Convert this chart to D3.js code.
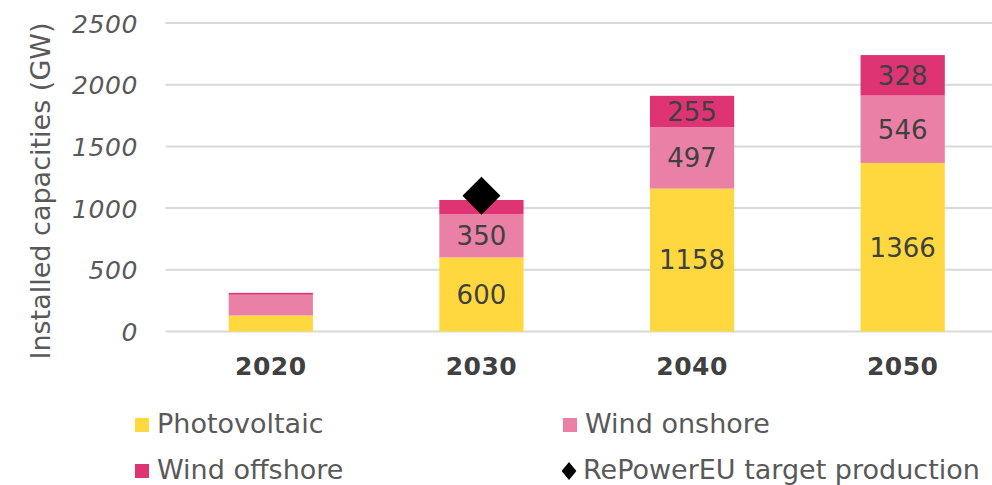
<!DOCTYPE html>
<html>
<head>
<meta charset="utf-8">
<script src="https://cdn.jsdelivr.net/npm/d3@7/dist/d3.min.js"></script>
<style>
  html, body { margin: 0; padding: 0; background: #ffffff; }
  svg { display: block; }
</style>
</head>
<body>
<script>
// Installed capacities in GW by year and technology
const years = ["2020", "2030", "2040", "2050"];
const photovoltaic = [130, 600, 1158, 1366];
const windOnshore = [168, 350, 497, 546];
const windOffshore = [15, 116, 255, 328];
const repowerTarget = [null, 1100, null, null];
const yTicks = [0, 500, 1000, 1500, 2000, 2500];

const seriesNames = ["Photovoltaic", "Wind onshore", "Wind offshore"];
const seriesColors = ["#FFD83F", "#EA80A6", "#DE3474"];
const targetName = "RePowerEU target production";

const W = 992, H = 485;
const svg = d3.select("body").append("svg").attr("width", W).attr("height", H);

const x = d3.scaleBand().domain(years).range([165.5, 1008]).paddingInner(0.6).paddingOuter(0.3);
const y = d3.scaleLinear().domain([0, 2500]).range([331.5, 23]);

// Horizontal gridlines
svg.append("g").selectAll("line").data(yTicks).join("line")
  .attr("x1", 165.5).attr("x2", W)
  .attr("y1", d => y(d)).attr("y2", d => y(d))
  .attr("stroke", "#D9D9D9").attr("stroke-width", 2);

// Y axis tick labels
const yAxis = d3.axisLeft(y).tickValues(yTicks).tickSize(0).tickPadding(0).tickFormat(d3.format("d"));
const gy = svg.append("g").attr("transform", "translate(138,0)").call(yAxis);
gy.select(".domain").remove();
gy.selectAll("text")
  .attr("font-family", "'DejaVu Sans', Verdana, sans-serif")
  .attr("font-size", 25).attr("font-style", "italic")
  .attr("letter-spacing", 0.6)
  .attr("fill", "#595959").attr("dy", "0.36em");

// Y axis title
svg.append("text")
  .attr("transform", "translate(50,191) rotate(-90)")
  .attr("text-anchor", "middle")
  .attr("font-family", "'DejaVu Sans', Verdana, sans-serif")
  .attr("font-size", 27).attr("fill", "#595959")
  .text("Installed capacities (GW)");

// Stacked data
const table = years.map((yr, i) => ({
  year: yr,
  "Photovoltaic": photovoltaic[i],
  "Wind onshore": windOnshore[i],
  "Wind offshore": windOffshore[i]
}));
const stacked = d3.stack().keys(seriesNames)(table);

const layers = svg.append("g").selectAll("g").data(stacked).join("g")
  .attr("fill", (d, i) => seriesColors[i]);
layers.selectAll("rect").data(d => d).join("rect")
  .attr("x", d => x(d.data.year))
  .attr("width", x.bandwidth())
  .attr("y", d => y(d[1]))
  .attr("height", d => y(d[0]) - y(d[1]));

// Value labels for segments large enough to hold them
const labelMin = 200;
const labels = svg.append("g");
stacked.forEach(layer => {
  layer.forEach(d => {
    const v = d[1] - d[0];
    if (v >= labelMin) {
      labels.append("text")
        .attr("x", x(d.data.year) + x.bandwidth() / 2)
        .attr("y", (y(d[0]) + y(d[1])) / 2)
        .attr("dy", "0.36em")
        .attr("text-anchor", "middle")
        .attr("font-family", "'DejaVu Sans', Verdana, sans-serif")
        .attr("font-size", 26).attr("fill", "#404040")
        .text(v);
    }
  });
});

// RePowerEU target markers
const diamond = d3.symbol().type(d3.symbolSquare).size(722)();
svg.append("g").selectAll("path")
  .data(years.map((yr, i) => ({ year: yr, v: repowerTarget[i] })).filter(d => d.v != null))
  .join("path")
  .attr("d", diamond)
  .attr("transform", d => `translate(${x(d.year) + x.bandwidth() / 2},${y(d.v)}) rotate(45)`)
  .attr("fill", "#000000");

// Category labels
const xAxis = d3.axisBottom(x).tickSize(0).tickPadding(0);
const gx = svg.append("g").attr("transform", "translate(0,375)").call(xAxis);
gx.select(".domain").remove();
gx.selectAll("text")
  .attr("y", 0).attr("dy", 0)
  .attr("font-family", "'DejaVu Sans', Verdana, sans-serif")
  .attr("font-size", 25).attr("font-weight", "bold")
  .attr("letter-spacing", 0.5)
  .attr("fill", "#404040");

// Legend
const legendItems = [
  { name: seriesNames[0], color: seriesColors[0], type: "square", x: 135, y: 433 },
  { name: seriesNames[1], color: seriesColors[1], type: "square", x: 563, y: 433 },
  { name: seriesNames[2], color: seriesColors[2], type: "square", x: 135, y: 479 },
  { name: targetName, color: "#000000", type: "diamond", x: 561, y: 479 }
];
const lg = svg.append("g").selectAll("g").data(legendItems).join("g")
  .attr("transform", d => `translate(${d.x},${d.y})`);
lg.filter(d => d.type === "square").append("rect")
  .attr("x", 0).attr("y", -15).attr("width", 14).attr("height", 14)
  .attr("fill", d => d.color);
lg.filter(d => d.type === "diamond").append("path")
  .attr("d", d3.symbol().type(d3.symbolSquare).size(150)())
  .attr("transform", "translate(8,-8) scale(0.85,1.05) rotate(45)")
  .attr("fill", "#000000");
lg.append("text")
  .attr("x", 22).attr("y", 0)
  .attr("font-family", "'DejaVu Sans', Verdana, sans-serif")
  .attr("font-size", 27).attr("fill", "#595959")
  .text(d => d.name);
</script>
</body>
</html>
